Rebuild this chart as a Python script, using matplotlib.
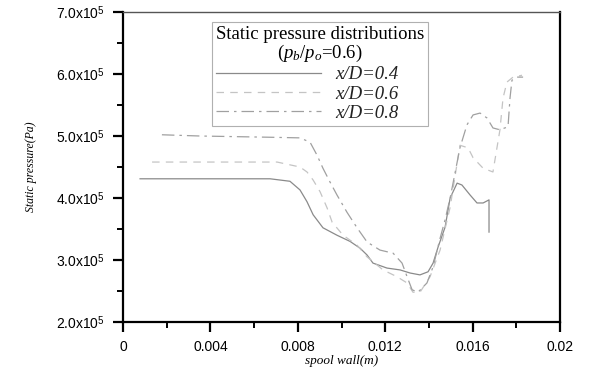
import matplotlib
matplotlib.use("Agg")
import matplotlib.pyplot as plt
from matplotlib.ticker import MultipleLocator, FixedLocator

plt.rcParams['mathtext.fontset'] = 'custom'
plt.rcParams['mathtext.rm'] = 'Liberation Serif'
plt.rcParams['mathtext.it'] = 'Liberation Serif:italic'
plt.rcParams['mathtext.sf'] = 'Liberation Sans'

# x in mm, pressure in 1e5 Pa
x04 = [0.78, 3.52, 6.73, 7.64, 8.10, 8.42, 8.70, 9.15, 9.79, 10.39, 10.85, 11.17, 11.44,
       12.08, 12.68, 13.14, 13.59, 13.96, 14.19, 14.42, 14.74, 14.97, 15.29, 15.51,
       15.88, 16.20, 16.48, 16.75, 16.75]
p04 = [4.31, 4.31, 4.31, 4.27, 4.13, 3.94, 3.73, 3.52, 3.40, 3.30, 3.19, 3.08, 2.95,
       2.87, 2.84, 2.79, 2.76, 2.81, 2.95, 3.21, 3.53, 4.00, 4.24, 4.21,
       4.05, 3.92, 3.92, 3.97, 3.45]

x06 = [1.33, 3.52, 7.05, 8.10, 8.42, 8.70, 9.02, 9.34, 9.57, 10.07, 10.71, 11.17, 11.90,
       12.54, 13.00, 13.27, 13.59, 14.05, 14.51, 14.97, 15.42, 15.79, 16.02, 16.48,
       16.93, 17.25, 17.39, 17.57, 17.85, 18.26]
p06 = [4.58, 4.58, 4.58, 4.50, 4.42, 4.29, 4.10, 3.84, 3.61, 3.40, 3.24, 3.05, 2.84,
       2.73, 2.63, 2.48, 2.48, 2.73, 3.16, 3.85, 4.85, 4.81, 4.65, 4.48,
       4.42, 5.10, 5.61, 5.87, 5.95, 5.98]

x08 = [1.78, 3.52, 6.73, 8.10, 8.56, 8.88, 9.15, 9.47, 9.79, 10.25, 10.71, 11.17, 11.76,
       12.36, 12.77, 13.00, 13.23, 13.50, 13.91, 14.19, 14.51, 14.74, 14.97, 15.42,
       15.74, 16.02, 16.34, 16.66, 16.93, 17.25, 17.62, 17.71, 17.80, 18.03, 18.31]
p08 = [5.02, 5.00, 4.98, 4.97, 4.90, 4.69, 4.48, 4.26, 4.05, 3.77, 3.52, 3.29, 3.16,
       3.11, 2.95, 2.73, 2.52, 2.48, 2.63, 2.89, 3.35, 3.65, 4.00, 4.81,
       5.18, 5.34, 5.37, 5.29, 5.13, 5.10, 5.15, 5.61, 5.90, 5.95, 5.95]

labels = ['x/D=0.4', 'x/D=0.6', 'x/D=0.8']
xticks = [0, 0.004, 0.008, 0.012, 0.016, 0.02]
xticklabels = ['0', '0.004', '0.008', '0.012', '0.016', '0.02']
yticks = [2e5, 3e5, 4e5, 5e5, 6e5, 7e5]
yticklabels = [r'2.0x10$^{\mathsf{5}}$', r'3.0x10$^{\mathsf{5}}$', r'4.0x10$^{\mathsf{5}}$',
               r'5.0x10$^{\mathsf{5}}$', r'6.0x10$^{\mathsf{5}}$', r'7.0x10$^{\mathsf{5}}$']

fig = plt.figure(figsize=(5.92, 3.72), dpi=100)
ax = fig.add_axes([0.2078, 0.1344, 0.7382, 0.8333])

def mm(v):
    return [a * 1e-3 for a in v]

def pa(v):
    return [a * 1e5 for a in v]

l1, = ax.plot(mm(x04), pa(p04), color='#8a8a8a', lw=0.9, ls='-')
l2, = ax.plot(mm(x06), pa(p06), color='#c4c4c4', lw=0.9, ls=(0, (6, 5)))
l3, = ax.plot(mm(x08), pa(p08), color='#a0a0a0', lw=0.9, ls=(0, (10, 4, 2, 4)))

ax.set_xlim(0, 0.02)
ax.set_ylim(2e5, 7e5)
ax.xaxis.set_major_locator(FixedLocator(xticks))
ax.set_xticklabels(xticklabels)
ax.xaxis.set_minor_locator(MultipleLocator(0.002))
ax.yaxis.set_major_locator(FixedLocator(yticks))
ax.set_yticklabels(yticklabels)
ax.yaxis.set_minor_locator(MultipleLocator(0.5e5))

ax.tick_params(which='major', direction='out', length=7, width=1.6, labelsize=10, pad=6,
               top=False, right=False)
ax.tick_params(which='minor', direction='out', length=4, width=1.4, top=False, right=False)
for lab in ax.get_xticklabels() + ax.get_yticklabels():
    lab.set_family('Liberation Sans')
for s in ['left', 'bottom', 'right']:
    ax.spines[s].set_linewidth(1.6)
ax.spines['top'].set_linewidth(1.0)
ax.spines['top'].set_color('#555555')

ax.set_xlabel('spool wall(m)', family='Liberation Serif', style='italic', fontsize=9.5, labelpad=1)
ax.set_ylabel('Static pressure(Pa)', family='Liberation Serif', style='italic', fontsize=8.5, labelpad=14)

leg = ax.legend([l1, l2, l3], labels,
                title='Static pressure distributions\n($p_b$/$p_o$=0.6)',
                loc='upper left', bbox_to_anchor=(0.204, 0.968),
                prop={'family': 'Liberation Serif', 'style': 'italic', 'size': 13.5},
                title_fontproperties={'family': 'Liberation Serif', 'size': 13.5},
                fancybox=False, framealpha=1, edgecolor='#b0b0b0',
                handlelength=5.6, labelspacing=0.12, borderpad=0.2,
                handletextpad=0.75, borderaxespad=0)
leg.get_frame().set_linewidth(0.8)
leg._legend_box.align = 'left'
leg.get_title().set_multialignment('center')
leg.get_title().set_linespacing(1.0)
for t in leg.get_texts():
    t.set_color('#222222')

fig.savefig('out.png', dpi=100)
